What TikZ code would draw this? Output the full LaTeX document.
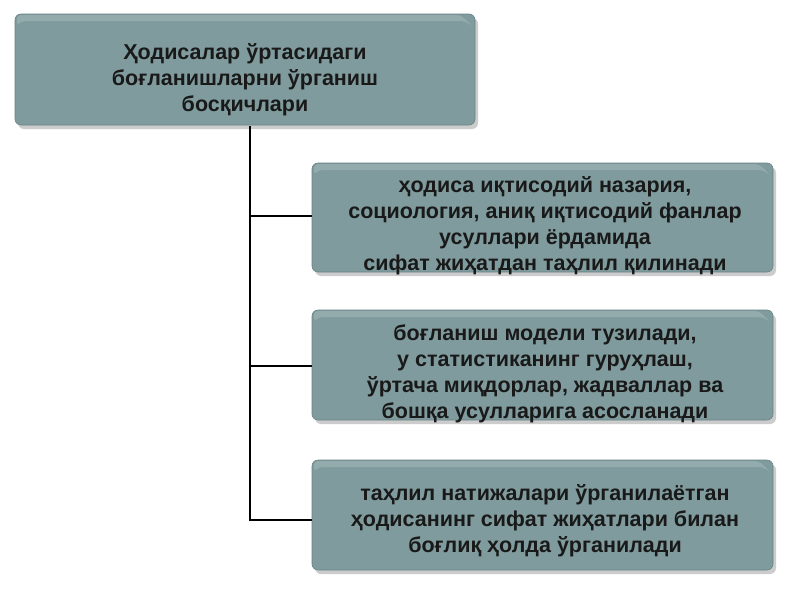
\documentclass[tikz,border=0pt]{standalone}
\usepackage{fontspec}
\setmainfont{Liberation Sans}
\begin{document}
\begin{tikzpicture}[x=1pt,y=-1pt,
  box/.style={fill=boxc,rounded corners=6pt,draw=boxd,line width=0.6pt},
  txt/.style={font=\bfseries\fontsize{21.5}{26}\selectfont,align=center,text=black!90},
  conn/.style={draw=black,line width=1.4pt}]
\definecolor{boxc}{HTML}{7F9B9D}
\definecolor{boxd}{HTML}{6A8385}
\definecolor{boxl}{HTML}{93ABAD}
\useasboundingbox (0,0) rectangle (800,600);
\fill[white] (0,0) rectangle (800,600);
\newcommand\bbox[5]{%
  \fill[black!20,rounded corners=6pt] (#1+3,#2+4) rectangle (#3+3,#4+4);
  \path[box] (#1,#2) rectangle (#3,#4);
  \fill[boxl,rounded corners=4pt] (#1+2,#2+1) -- (#3-14,#2+1) -- (#3-2,#2+13) -- (#3-10,#2+7) -- (#1+6,#2+7) -- (#1+2,#2+12) -- cycle;
  \coordinate (#5) at ({(#1+#3)/2},{(#2+#4)/2});}
\bbox{15}{14}{475}{125}{a}
\bbox{312}{163}{773}{272}{b}
\bbox{312}{310}{773}{420}{c}
\bbox{312}{460}{773}{570}{d}
\node[txt] (ta) at (245,80) {Ҳодисалар ўртасидаги\\боғланишларни ўрганиш\\босқичлари};
\node[txt] (tb) at (545,226) {ҳодиса иқтисодий назария,\\социология, аниқ иқтисодий фанлар\\усуллари ёрдамида\\ сифат жиҳатдан таҳлил қилинади};
\node[txt] (tc) at (545,374) {боғланиш модели тузилади,\\у статистиканинг гуруҳлаш,\\ўртача миқдорлар, жадваллар ва\\бошқа усулларига асосланади};
\node[txt] (td) at (545,521) {таҳлил натижалари ўрганилаётган\\ҳодисанинг сифат жиҳатлари билан\\боғлиқ ҳолда ўрганилади};
\coordinate (top) at (250,126);
\coordinate (j1) at (250,216);
\coordinate (j2) at (250,366);
\coordinate (j3) at (250,520);
\draw[conn] (top) -- (j3) -- (312,520);
\draw[conn] (j1) -- (312,216);
\draw[conn] (j2) -- (312,366);
\end{tikzpicture}
\end{document}
